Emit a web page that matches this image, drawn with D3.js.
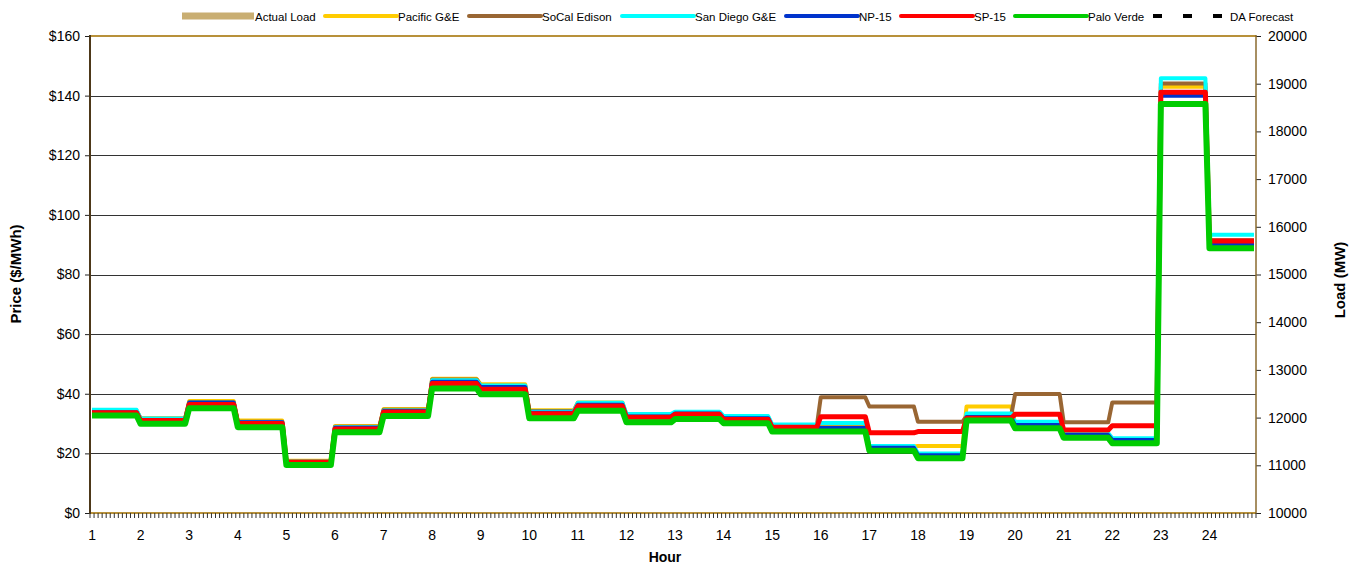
<!DOCTYPE html>
<html>
<head>
<meta charset="utf-8">
<script src="https://cdn.jsdelivr.net/npm/d3@7"></script>
<style>
  body { margin: 0; background: #fff; }
  svg { font-family: "Liberation Sans", Arial, sans-serif; }
</style>
</head>
<body>
<svg id="chart" width="1356" height="565"></svg>
<script>
// Stunden und Preise je Zone ($/MWh)
const hours = d3.range(1, 25);
const pacificGE = [34.3, 31.8, 37.6, 31.0, 17.5, 29.2, 34.9, 45.0, 43.2, 34.5, 37.1, 33.0, 33.8, 32.3, 29.3, 29.5, 22.3, 22.5, 35.7, 30.2, 26.5, 24.8, 143.0, 90.5];
const socalEdison = [34.2, 31.6, 37.2, 30.6, 17.3, 28.9, 34.6, 44.8, 42.7, 34.2, 36.8, 32.8, 33.6, 32.0, 29.0, 38.8, 35.7, 30.6, 32.5, 39.9, 30.4, 37.1, 144.1, 91.5];
const sanDiegoGE = [34.6, 31.7, 37.0, 30.4, 17.2, 28.8, 34.4, 44.5, 42.8, 34.0, 37.0, 33.2, 34.0, 32.5, 29.7, 30.2, 22.5, 20.0, 33.4, 30.6, 26.8, 25.1, 145.8, 93.3];
const np15 = [33.8, 31.2, 37.0, 30.4, 17.1, 28.6, 34.2, 44.0, 42.3, 33.6, 36.3, 32.4, 33.4, 31.8, 28.8, 28.6, 21.9, 19.4, 32.2, 29.5, 26.2, 24.5, 140.0, 90.1];
const sp15 = [33.6, 31.0, 36.4, 30.0, 17.0, 28.2, 33.9, 43.4, 41.5, 33.3, 35.9, 32.1, 33.1, 31.4, 28.8, 32.3, 26.9, 27.3, 31.8, 33.1, 27.8, 29.3, 141.1, 91.2];
const paloVerde = [32.7, 29.9, 35.1, 28.8, 16.1, 27.1, 32.5, 41.8, 39.8, 31.8, 34.3, 30.4, 31.5, 30.1, 27.3, 27.3, 20.9, 18.4, 31.0, 28.4, 25.2, 23.4, 137.2, 88.8];

const priceTicks = [0, 20, 40, 60, 80, 100, 120, 140, 160];
const loadTicks = [10000, 11000, 12000, 13000, 14000, 15000, 16000, 17000, 18000, 19000, 20000];

const series = [
  { name: "Pacific G&E", values: pacificGE, color: "#ffcc00", width: 4 },
  { name: "SoCal Edison", values: socalEdison, color: "#996633", width: 4 },
  { name: "San Diego G&E", values: sanDiegoGE, color: "#00ffff", width: 4 },
  { name: "NP-15", values: np15, color: "#0033cc", width: 4 },
  { name: "SP-15", values: sp15, color: "#ff0000", width: 5 },
  { name: "Palo Verde", values: paloVerde, color: "#00cc00", width: 6 }
];

const plot = { left: 90, right: 1256, top: 36, bottom: 513 };
const svg = d3.select("#chart");

// x in 5-Minuten-Intervallen (12 je Stunde, 288 insgesamt)
const x = d3.scaleLinear().domain([0, 288]).range([plot.left, plot.right]);
const y = d3.scaleLinear().domain([0, 160]).range([plot.bottom, plot.top]);
const yLoad = d3.scaleLinear().domain([10000, 20000]).range([plot.bottom, plot.top]);

// Gitterlinien
svg.append("g")
  .selectAll("line")
  .data(priceTicks.slice(1, -1))
  .join("line")
  .attr("x1", plot.left).attr("x2", plot.right)
  .attr("y1", d => Math.round(y(d)) + 0.5).attr("y2", d => Math.round(y(d)) + 0.5)
  .attr("stroke", "#333").attr("stroke-width", 1);

// Rahmen oben / unten
svg.append("line").attr("x1", plot.left).attr("x2", plot.right).attr("y1", plot.top).attr("y2", plot.top)
  .attr("stroke", "#b8913a").attr("stroke-width", 2);
svg.append("line").attr("x1", plot.left).attr("x2", plot.right).attr("y1", plot.bottom).attr("y2", plot.bottom)
  .attr("stroke", "#b8913a").attr("stroke-width", 2);

// Stufenlinien: jede Stunde konstant über ihre 12 Intervalle
function stepPoints(values) {
  const pts = [];
  values.forEach((v, i) => {
    pts.push([i * 12 + 0.5, v]);
    pts.push([i * 12 + 11.5, v]);
  });
  return pts;
}

const line = d3.line().x(d => x(d[0])).y(d => y(d[1]));

svg.append("g")
  .selectAll("path")
  .data(series)
  .join("path")
  .attr("d", d => line(stepPoints(d.values)))
  .attr("fill", "none")
  .attr("stroke", d => d.color)
  .attr("stroke-width", d => d.width)
  .attr("stroke-linejoin", "round");

// linke Achse
const yAxis = svg.append("g")
  .attr("transform", `translate(${plot.left},0)`)
  .call(d3.axisLeft(y).tickValues(priceTicks).tickFormat(d => "$" + d).tickSize(5).tickPadding(5));
yAxis.select(".domain").remove();
yAxis.selectAll("line").attr("stroke", "#222");
yAxis.selectAll("text").attr("font-size", 14).attr("fill", "#000");
svg.append("line").attr("x1", plot.left).attr("x2", plot.left).attr("y1", plot.top - 1).attr("y2", plot.bottom + 1)
  .attr("stroke", "#4d3819").attr("stroke-width", 2);

// rechte Achse (Last)
const yAxisR = svg.append("g")
  .attr("transform", `translate(${plot.right},0)`)
  .call(d3.axisRight(yLoad).tickValues(loadTicks).tickFormat(d3.format("d")).tickSize(5).tickPadding(7));
yAxisR.select(".domain").remove();
yAxisR.selectAll("line").attr("stroke", "#222");
yAxisR.selectAll("text").attr("font-size", 14).attr("fill", "#000");
svg.append("line").attr("x1", plot.right).attr("x2", plot.right).attr("y1", plot.top - 1).attr("y2", plot.bottom + 1)
  .attr("stroke", "#8a6a2e").attr("stroke-width", 1.5);

// x-Achse: 5-Minuten-Striche und Stunden-Beschriftung
svg.append("g")
  .selectAll("line")
  .data(d3.range(0, 289))
  .join("line")
  .attr("x1", d => x(d)).attr("x2", d => x(d))
  .attr("y1", plot.bottom).attr("y2", plot.bottom + 5)
  .attr("stroke", "#333").attr("stroke-width", 1);
svg.append("g")
  .selectAll("text")
  .data(hours)
  .join("text")
  .attr("x", d => x((d - 1) * 12 + 0.5))
  .attr("y", 540)
  .attr("text-anchor", "middle")
  .attr("font-size", 14)
  .text(d => d);

// Achsentitel
svg.append("text").attr("x", 665).attr("y", 562).attr("text-anchor", "middle")
  .attr("font-size", 14).attr("font-weight", "bold").text("Hour");
svg.append("text").attr("transform", "translate(21,274) rotate(-90)").attr("text-anchor", "middle")
  .attr("font-size", 15).attr("font-weight", "bold").text("Price ($/MWh)");
svg.append("text").attr("transform", "translate(1345,280) rotate(-90)").attr("text-anchor", "middle")
  .attr("font-size", 15).attr("font-weight", "bold").text("Load (MW)");

// Legende
const legendItems = [
  { name: "Actual Load", color: "#c9ae72", width: 7, x: 182 },
  { name: "Pacific G&E", color: "#ffcc00", width: 4, x: 325 },
  { name: "SoCal Edison", color: "#996633", width: 4, x: 469 },
  { name: "San Diego G&E", color: "#00ffff", width: 4, x: 622 },
  { name: "NP-15", color: "#0033cc", width: 4, x: 786 },
  { name: "SP-15", color: "#ff0000", width: 4, x: 901 },
  { name: "Palo Verde", color: "#00cc00", width: 4, x: 1015 }
];
const legendY = 16;
const lg = svg.append("g").selectAll("g").data(legendItems).join("g");
lg.append("line")
  .attr("x1", d => d.x).attr("x2", d => d.x + 72)
  .attr("y1", legendY).attr("y2", legendY)
  .attr("stroke", d => d.color).attr("stroke-width", d => d.width)
  .attr("stroke-linecap", d => d.width > 5 ? "butt" : "round");
lg.append("text")
  .attr("x", d => d.x + 73).attr("y", legendY + 4.5)
  .attr("font-size", 11.5)
  .text(d => d.name);

svg.append("line").attr("x1", 1153).attr("x2", 1222).attr("y1", legendY).attr("y2", legendY)
  .attr("stroke", "#000").attr("stroke-width", 4).attr("stroke-dasharray", "9,21");
svg.append("text").attr("x", 1230).attr("y", legendY + 4.5).attr("font-size", 11.5).text("DA Forecast");
</script>
</body>
</html>
